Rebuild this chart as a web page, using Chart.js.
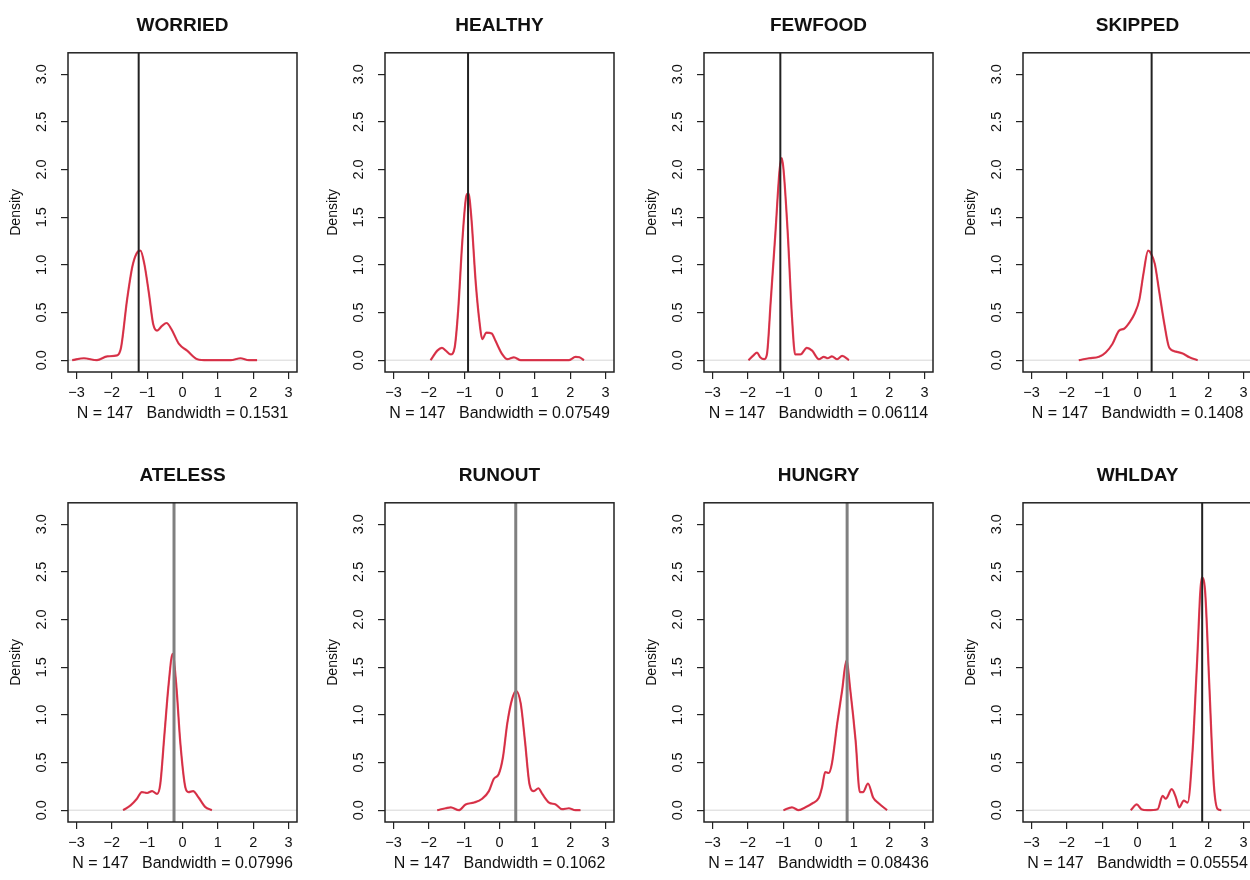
<!DOCTYPE html>
<html>
<head>
<meta charset="utf-8">
<script src="https://cdn.jsdelivr.net/npm/chart.js@4.4.1/dist/chart.umd.min.js"></script>
<style>
  html, body { margin: 0; padding: 0; background: #fff; overflow: hidden; }
  #page { position: relative; width: 1250px; height: 880px; overflow: hidden; background: #fff; }
  .panel { position: absolute; }
</style>
</head>
<body>
<div id="page"></div>
<script>
// one panel per item
const panelTitles = ["WORRIED", "HEALTHY", "FEWFOOD", "SKIPPED", "ATELESS", "RUNOUT", "HUNGRY", "WHLDAY"];
const sampleSize = 147;
const bandwidths = ["0.1531", "0.07549", "0.06114", "0.1408", "0.07996", "0.1062", "0.08436", "0.05554"];
// value marked with the vertical line
const markerValues = [-1.24, -0.89, -1.08, 0.40, -0.24, 0.46, 0.81, 1.83];

const xTicks = [-3, -2, -1, 0, 1, 2, 3];
const yTicks = [0, 0.5, 1, 1.5, 2, 2.5, 3];

// density curves
const worriedX = [-3.12, -2.79, -2.42, -2.13, -1.85, -1.74, -1.57, -1.42, -1.30, -1.19, -1.08, -0.95, -0.83, -0.72, -0.58, -0.45, -0.32, -0.10, 0.13, 0.42, 0.70, 1.36, 1.64, 1.88, 2.11];
const worriedY = [0.0, 0.02, 0.0, 0.04, 0.05, 0.13, 0.63, 0.98, 1.12, 1.15, 1.01, 0.70, 0.38, 0.31, 0.36, 0.39, 0.33, 0.17, 0.10, 0.01, 0.0, 0.0, 0.02, 0.0, 0.0];

const healthyX = [-1.95, -1.76, -1.63, -1.52, -1.38, -1.27, -1.17, -1.05, -0.94, -0.88, -0.80, -0.67, -0.56, -0.49, -0.37, -0.22, -0.11, 0.08, 0.22, 0.41, 0.60, 1.96, 2.15, 2.26, 2.39];
const healthyY = [0, 0.10, 0.13, 0.10, 0.06, 0.13, 0.52, 1.26, 1.72, 1.75, 1.51, 0.80, 0.38, 0.22, 0.29, 0.28, 0.20, 0.06, 0.01, 0.03, 0, 0, 0.035, 0.03, 0];

const fewfoodX = [-1.98, -1.84, -1.74, -1.65, -1.54, -1.46, -1.35, -1.22, -1.10, -1.04, -0.99, -0.87, -0.75, -0.66, -0.51, -0.33, -0.18, 0.01, 0.15, 0.26, 0.38, 0.53, 0.67, 0.86];
const fewfoodY = [0, 0.05, 0.08, 0.03, 0.01, 0.06, 0.63, 1.33, 2.00, 2.12, 2.00, 1.33, 0.45, 0.06, 0.06, 0.13, 0.10, 0.01, 0.035, 0.02, 0.04, 0.01, 0.045, 0];

const skippedX = [-1.66, -1.37, -1.09, -0.90, -0.71, -0.52, -0.38, -0.22, -0.08, 0.05, 0.17, 0.30, 0.38, 0.49, 0.61, 0.76, 0.90, 1.09, 1.28, 1.47, 1.70];
const skippedY = [0, 0.02, 0.035, 0.08, 0.17, 0.31, 0.33, 0.40, 0.49, 0.63, 0.91, 1.15, 1.12, 1.01, 0.73, 0.38, 0.13, 0.09, 0.07, 0.03, 0];

const atelessX = [-1.68, -1.47, -1.29, -1.15, -1.00, -0.86, -0.72, -0.63, -0.51, -0.39, -0.28, -0.18, -0.06, 0.08, 0.17, 0.30, 0.46, 0.64, 0.83];
const atelessY = [0, 0.05, 0.12, 0.19, 0.18, 0.20, 0.17, 0.27, 0.80, 1.33, 1.64, 1.33, 0.70, 0.24, 0.19, 0.20, 0.13, 0.035, 0];

const runoutX = [-1.76, -1.52, -1.38, -1.15, -0.96, -0.72, -0.49, -0.30, -0.16, -0.02, 0.10, 0.22, 0.36, 0.47, 0.60, 0.72, 0.85, 0.97, 1.10, 1.21, 1.40, 1.59, 1.77, 1.96, 2.15, 2.29];
const runoutY = [0, 0.02, 0.03, 0, 0.06, 0.08, 0.12, 0.20, 0.33, 0.38, 0.56, 0.91, 1.17, 1.25, 1.12, 0.73, 0.27, 0.20, 0.23, 0.17, 0.08, 0.06, 0.01, 0.02, 0, 0];

const hungryX = [-0.99, -0.75, -0.56, -0.37, -0.18, 0.01, 0.10, 0.19, 0.29, 0.38, 0.53, 0.67, 0.79, 0.90, 1.05, 1.17, 1.26, 1.40, 1.55, 1.71, 1.94];
const hungryY = [0, 0.03, 0, 0.03, 0.07, 0.13, 0.24, 0.40, 0.39, 0.49, 0.91, 1.26, 1.57, 1.26, 0.73, 0.19, 0.19, 0.28, 0.13, 0.07, 0];

const whldayX = [-0.19, -0.02, 0.11, 0.28, 0.57, 0.71, 0.80, 0.97, 1.09, 1.18, 1.31, 1.42, 1.56, 1.68, 1.82, 1.91, 2.03, 2.16, 2.27, 2.37];
const whldayY = [0, 0.06, 0.01, 0, 0.01, 0.15, 0.12, 0.22, 0.13, 0.03, 0.10, 0.08, 0.63, 1.51, 2.44, 2.31, 1.33, 0.27, 0.01, 0];

const curvesX = [worriedX, healthyX, fewfoodX, skippedX, atelessX, runoutX, hungryX, whldayX];
const curvesY = [worriedY, healthyY, fewfoodY, skippedY, atelessY, runoutY, hungryY, whldayY];

// layout / style
const FONT = "'Liberation Sans', Arial, Helvetica, sans-serif";
Chart.defaults.font.family = FONT;
const panelLefts = [0, 317, 636, 955];
const panelW = 318, panelH = 450;
const markerColors = ["#222", "#222", "#222", "#222", "#808080", "#808080", "#808080", "#222"];
const markerWidths = [2, 2, 2, 2, 3, 3, 3, 2];

const fmtX = (v) => (v < 0 ? "\u2212" + Math.abs(v) : String(v));

// R style frame: zero line, marker line, box, rotated y labels
const rFrame = {
  id: "rFrame",
  beforeDatasetsDraw(chart) {
    const { ctx, chartArea, scales } = chart;
    const y0 = scales.y.getPixelForValue(0);
    ctx.save();
    ctx.strokeStyle = "#d6d6d6";
    ctx.lineWidth = 1;
    ctx.beginPath();
    ctx.moveTo(chartArea.left, y0);
    ctx.lineTo(chartArea.right, y0);
    ctx.stroke();
    ctx.restore();
  },
  afterDatasetsDraw(chart, args, opts) {
    const { ctx, chartArea, scales } = chart;
    const xm = scales.x.getPixelForValue(opts.marker);
    ctx.save();
    ctx.strokeStyle = opts.markerColor;
    ctx.lineWidth = opts.markerWidth;
    ctx.beginPath();
    ctx.moveTo(xm, chartArea.top);
    ctx.lineTo(xm, chartArea.bottom);
    ctx.stroke();

    ctx.strokeStyle = "#222";
    ctx.lineWidth = 1.5;
    ctx.strokeRect(chartArea.left, chartArea.top, chartArea.right - chartArea.left, chartArea.bottom - chartArea.top);
    ctx.restore();
  },
  afterDraw(chart) {
    const { ctx, scales } = chart;
    ctx.save();
    ctx.fillStyle = "#111";
    ctx.font = "14.5px " + FONT;
    ctx.textAlign = "center";
    ctx.textBaseline = "middle";
    yTicks.forEach((v) => {
      const py = scales.y.getPixelForValue(v);
      ctx.save();
      ctx.translate(42, py);
      ctx.rotate(-Math.PI / 2);
      ctx.fillText(v.toFixed(1), 0, 0);
      ctx.restore();
    });
    ctx.restore();
  },
};

const page = document.getElementById("page");

panelTitles.forEach((title, i) => {
  const col = i % 4, row = Math.floor(i / 4);
  const canvas = document.createElement("canvas");
  canvas.className = "panel";
  canvas.width = panelW;
  canvas.height = panelH;
  canvas.style.left = panelLefts[col] + "px";
  canvas.style.top = row * panelH + "px";
  canvas.style.width = panelW + "px";
  canvas.style.height = panelH + "px";
  page.appendChild(canvas);

  const pts = curvesX[i].map((x, k) => ({ x: x, y: curvesY[i][k] }));

  new Chart(canvas, {
    type: "line",
    data: {
      datasets: [
        {
          data: pts,
          borderColor: "rgba(222,34,60,0.85)",
          borderWidth: 2.2,
          pointRadius: 0,
          fill: false,
          cubicInterpolationMode: "monotone",
        },
        {
          data: pts,
          borderColor: "rgba(60,0,10,0.6)",
          borderWidth: 1.1,
          pointRadius: 0,
          fill: false,
          cubicInterpolationMode: "monotone",
        },
      ],
    },
    options: {
      responsive: false,
      animation: false,
      events: [],
      layout: { padding: { top: 0, right: 21, left: 0, bottom: 0 } },
      plugins: {
        legend: { display: false },
        tooltip: { enabled: false },
        title: {
          display: true,
          text: title,
          fullSize: false,
          color: "#111",
          font: { size: 19, weight: "bold" },
          padding: { top: 14, bottom: 16 },
        },
        rFrame: {
          marker: markerValues[i],
          markerColor: markerColors[i],
          markerWidth: markerWidths[i],
        },
      },
      scales: {
        x: {
          type: "linear",
          min: -3.24,
          max: 3.24,
          afterBuildTicks: (s) => { s.ticks = xTicks.map((v) => ({ value: v })); },
          afterFit: (s) => { s.height = 78; },
          border: { display: false },
          grid: { drawOnChartArea: false, drawTicks: true, tickLength: 7, color: "#222", lineWidth: 1.2 },
          ticks: { padding: 5, color: "#111", font: { size: 14.5 }, maxRotation: 0, autoSkip: false, callback: fmtX },
          title: {
            display: true,
            text: "N = " + sampleSize + "   Bandwidth = " + bandwidths[i],
            color: "#111",
            font: { size: 16 },
            padding: { top: 0, bottom: 27 },
          },
        },
        y: {
          type: "linear",
          min: -0.124,
          max: 3.224,
          afterBuildTicks: (s) => { s.ticks = yTicks.map((v) => ({ value: v })); },
          afterFit: (s) => { s.width = 68; },
          border: { display: false },
          grid: { drawOnChartArea: false, drawTicks: true, tickLength: 7, color: "#222", lineWidth: 1.2 },
          ticks: { display: false },
          title: {
            display: true,
            text: "Density",
            color: "#111",
            font: { size: 14 },
            padding: { top: 8, bottom: 0 },
          },
        },
      },
    },
    plugins: [rFrame],
  });
});
</script>
</body>
</html>
